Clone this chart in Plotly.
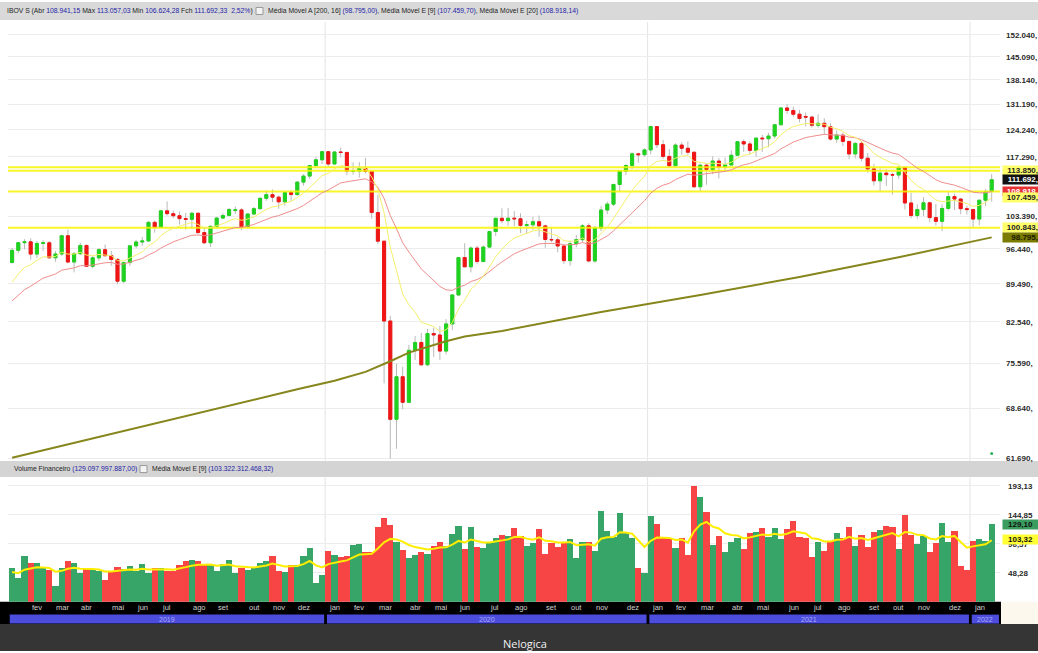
import numpy as np
import pandas as pd
import plotly.graph_objects as go

W, H = 1038, 653

# ---------------- DATA (weekly IBOV, thousands of points) ----------------
first_week = "2019-01-14"
opens = [93.66, 96.10, 97.68, 97.86, 95.34, 97.53, 97.66, 94.60, 95.36, 99.14,
         93.74, 95.42, 97.11, 92.88, 94.58, 96.24, 95.01, 94.26, 89.99, 93.63,
         97.03, 97.82, 98.04, 102.01, 100.97, 104.53, 103.91, 103.45, 102.82, 102.67,
         104.00, 99.81, 97.67, 101.14, 102.94, 103.50, 104.60, 104.75, 101.03, 103.83,
         105.02, 107.36, 108.20, 107.63, 106.56, 108.69, 108.23, 111.13, 112.56, 115.12,
         116.53, 118.57, 115.50, 118.48, 118.38, 113.76, 113.77, 114.38, 113.68, 104.17,
         98.00, 82.68, 67.07, 73.43, 69.54, 77.68, 78.99, 75.33, 80.51, 80.26,
         77.56, 82.17, 87.40, 94.64, 92.80, 96.57, 93.84, 96.77, 100.03, 102.89,
         102.38, 102.91, 102.78, 101.35, 101.47, 102.14, 101.24, 98.36, 98.29, 97.00,
         94.02, 97.48, 98.31, 101.26, 93.95, 100.75, 104.72, 106.04, 110.58, 113.75,
         115.13, 118.02, 117.81, 119.02, 125.08, 120.35, 117.38, 115.07, 120.24, 119.43,
         118.43, 110.04, 115.20, 114.16, 116.22, 114.78, 115.25, 117.67, 121.11, 120.53,
         118.89, 122.04, 121.88, 122.59, 125.56, 130.13, 129.44, 128.41, 127.80, 127.62,
         125.43, 125.96, 125.05, 121.80, 122.81, 121.19, 118.00, 120.68, 116.93, 114.29,
         111.44, 113.28, 112.90, 112.83, 114.65, 106.30, 103.50, 104.82, 106.34, 103.04,
         102.22, 105.07, 107.76, 107.20, 105.02, 104.82, 102.72, 106.93, 108.94]
highs = [96.59, 97.68, 98.40, 98.59, 98.00, 98.20, 98.00, 96.00, 99.35, 100.44,
         95.80, 97.70, 97.30, 94.90, 96.60, 97.30, 96.00, 94.50, 93.70, 97.10,
         98.30, 98.90, 102.20, 102.40, 104.80, 106.65, 104.60, 104.40, 104.10, 104.30,
         104.20, 101.00, 101.30, 103.20, 104.00, 105.20, 105.50, 105.10, 104.00, 105.40,
         107.60, 109.10, 109.40, 108.00, 109.00, 109.20, 111.30, 113.00, 115.20, 117.20,
         118.70, 118.60, 118.70, 119.60, 118.40, 115.90, 116.00, 117.00, 113.70, 108.20,
         98.00, 83.60, 75.50, 75.00, 78.60, 80.10, 80.60, 81.30, 81.50, 81.80,
         83.00, 87.40, 94.70, 97.60, 96.90, 97.10, 97.10, 100.20, 103.00, 105.10,
         105.20, 104.50, 104.00, 102.30, 103.20, 103.50, 101.50, 100.80, 98.80, 97.40,
         98.00, 99.30, 101.60, 101.80, 101.20, 105.60, 106.60, 110.60, 113.80, 115.50,
         118.40, 118.30, 119.40, 125.32, 125.10, 121.60, 119.20, 120.70, 121.00, 121.20,
         118.50, 115.60, 115.50, 117.40, 117.00, 117.10, 118.90, 121.20, 121.70, 121.20,
         122.10, 122.90, 123.40, 125.70, 130.40, 131.19, 130.50, 129.60, 128.90, 128.00,
         128.40, 127.30, 126.00, 124.00, 123.50, 121.30, 121.00, 121.20, 118.20, 115.50,
         114.40, 114.20, 113.40, 115.10, 114.80, 108.60, 106.00, 107.60, 106.60, 106.10,
         106.00, 108.80, 108.40, 107.40, 105.70, 105.00, 107.00, 109.50, 113.06]
lows = [93.40, 95.50, 96.30, 94.20, 94.60, 96.00, 94.40, 93.80, 95.00, 93.50,
        91.70, 95.20, 92.80, 92.50, 94.00, 94.90, 93.00, 89.40, 89.60, 93.00,
        96.60, 97.00, 97.90, 99.80, 100.90, 103.50, 102.90, 101.50, 100.40, 100.60,
        99.50, 97.40, 96.80, 100.70, 102.70, 103.30, 103.80, 100.30, 100.70, 103.60,
        104.80, 106.80, 106.50, 105.00, 105.70, 106.80, 107.90, 110.30, 111.90, 114.80,
        115.50, 114.90, 115.40, 117.10, 112.80, 112.90, 112.20, 113.20, 102.80, 97.40,
        72.40, 61.69, 63.00, 68.50, 69.40, 76.10, 75.10, 75.10, 76.60, 76.10,
        77.00, 81.10, 87.20, 92.70, 91.70, 93.40, 93.70, 96.70, 99.10, 101.80,
        101.30, 101.20, 99.70, 99.50, 100.40, 98.90, 96.60, 97.80, 95.70, 93.40,
        93.00, 96.70, 97.70, 93.70, 93.60, 100.10, 103.80, 105.60, 108.90, 112.80,
        114.30, 115.80, 117.30, 117.90, 119.50, 116.80, 114.70, 115.00, 117.80, 117.80,
        109.70, 109.00, 110.50, 113.00, 112.00, 113.80, 115.20, 117.50, 118.50, 117.90,
        117.30, 118.50, 119.70, 122.00, 125.50, 128.50, 127.70, 126.20, 125.10, 124.80,
        124.80, 122.90, 121.40, 120.80, 120.00, 116.70, 116.90, 116.20, 113.40, 110.30,
        108.80, 110.20, 108.20, 111.90, 104.80, 102.90, 102.80, 103.40, 102.10, 101.30,
        100.10, 104.60, 104.70, 103.80, 103.70, 100.85, 101.40, 105.60, 106.62]
closes = [96.10, 97.68, 97.86, 95.34, 97.53, 97.66, 94.60, 95.36, 99.14, 93.74,
          95.42, 97.11, 92.88, 94.58, 96.24, 95.01, 94.26, 89.99, 93.63, 97.03,
          97.82, 98.04, 102.01, 100.97, 104.53, 103.91, 103.45, 102.82, 102.67, 104.00,
          99.81, 97.67, 101.14, 102.94, 103.50, 104.82, 104.75, 101.03, 103.83, 105.02,
          107.36, 108.20, 107.63, 106.56, 108.69, 108.23, 111.13, 112.56, 115.12, 116.53,
          118.57, 115.50, 118.48, 118.38, 113.76, 113.77, 114.38, 113.68, 104.17, 98.00,
          82.68, 67.07, 73.43, 69.54, 77.68, 78.99, 75.33, 80.51, 80.26, 77.56,
          82.17, 87.40, 94.64, 92.80, 96.57, 93.84, 96.77, 100.03, 102.89, 102.38,
          102.91, 102.78, 101.35, 101.47, 102.14, 101.24, 98.36, 98.29, 97.00, 94.02,
          97.48, 98.31, 101.26, 93.95, 100.75, 104.72, 106.04, 110.58, 113.75, 115.13,
          118.02, 117.81, 119.02, 125.08, 120.35, 117.38, 115.07, 120.24, 119.43, 118.43,
          110.04, 115.20, 114.16, 116.22, 114.78, 115.25, 117.67, 121.11, 120.53, 118.89,
          122.04, 121.88, 122.59, 125.56, 130.13, 129.44, 128.41, 127.26, 127.62, 125.43,
          125.96, 125.05, 121.80, 122.81, 121.19, 118.00, 120.68, 116.93, 114.29, 111.44,
          113.28, 112.90, 112.83, 114.65, 106.30, 103.50, 104.82, 106.34, 103.04, 102.22,
          105.07, 107.76, 107.20, 105.02, 104.82, 102.72, 106.93, 108.94, 111.69]
# weekly financial volume, R$ billions
volumes = [56.6, 40.0, 76.6, 64.9, 63.8, 56.6, 52.2, 26.1, 56.6, 68.3,
           63.8, 48.3, 55.5, 52.2, 51.1, 36.6, 49.4, 58.3, 54.9, 59.4,
           50.5, 62.2, 48.3, 55.5, 56.6, 51.6, 51.6, 61.1, 68.3, 69.4,
           68.3, 61.1, 63.3, 51.6, 63.3, 68.8, 47.7, 55.5, 53.3, 55.5,
           64.9, 67.2, 76.6, 50.5, 49.4, 61.6, 60.5, 75.5, 89.4, 30.5,
           43.8, 84.4, 77.1, 73.8, 76.0, 94.9, 96.6, 82.1, 83.3, 123.8,
           139.3, 128.2, 99.9, 86.0, 72.2, 77.1, 82.1, 78.8, 92.7, 98.8,
           92.1, 112.7, 126.5, 88.2, 123.8, 91.0, 89.9, 98.2, 106.6, 111.0,
           109.9, 123.2, 109.9, 93.2, 97.1, 122.1, 78.8, 97.1, 91.6, 98.2,
           103.8, 72.2, 98.8, 98.8, 84.4, 151.5, 117.7, 108.2, 148.7, 113.8,
           105.5, 55.5, 48.3, 143.2, 128.8, 105.5, 105.5, 89.9, 106.6, 77.7,
           193.1, 174.3, 149.9, 94.4, 109.3, 82.1, 99.9, 106.6, 87.1, 113.8,
           116.6, 123.2, 107.1, 123.2, 103.8, 121.0, 134.3, 107.1, 106.6, 74.9,
           98.8, 84.4, 101.0, 113.8, 106.6, 124.9, 92.7, 111.0, 91.0, 116.6,
           119.3, 126.0, 124.9, 87.1, 145.4, 111.0, 96.6, 109.3, 83.3, 97.1,
           132.1, 99.9, 118.2, 59.4, 52.2, 101.0, 103.8, 101.0, 129.1]
# 200-period simple moving average (week index, thousands)
sma200_idx = [0, 10, 20, 30, 40, 46, 52, 57, 61, 64, 70, 73, 79, 95, 111, 127, 143, 158]
sma200_val = [61.8, 63.8, 65.8, 67.9, 70.1, 71.5, 72.8, 74.2, 75.9, 77.3,
              79.2, 80.0, 80.95, 84.3, 87.4, 90.8, 94.7, 98.795]
ema9_seed, ema20_seed, vol_ema9_seed = 89.8, 86.3, 49.4
levels = [114.72, 113.85, 108.94, 100.843]

# right-axis labels as they show in the window (the right edge cuts them after the comma)
price_ticks = [61.69, 68.64, 75.59, 82.54, 89.49, 96.44, 103.39, 117.29,
               124.24, 131.19, 138.14, 145.09, 152.04]
price_tick_text = ["61.690,", "68.640,", "75.590,", "82.540,", "89.490,", "96.440,", "103.390,",
                   "117.290,", "124.240,", "131.190,", "138.140,", "145.090,", "152.040,"]
vol_ticks = [48.2825, 96.565, 144.8475, 193.13]
vol_tick_text = ["48,28", "96,57", "144,85", "193,13"]
tag_values = [113.85, 111.69233, 108.91814, 107.4597, 100.843, 98.795]
tag_text = ["113.850,", "111.692,", "108.918,", "107.459,", "100.843,", "98.795,"]
vol_tag_values = [129.10, 103.32]
vol_tag_text = ["129,10", "103,32"]
month_names = ["jan", "fev", "mar", "abr", "mai", "jun", "jul", "ago", "set", "out", "nov", "dez"]
years = [2019, 2020, 2021, 2022]

# ---------------- derived ----------------
dates = pd.date_range(first_week, periods=len(closes), freq="7D")
o = np.array(opens) * 1000
h = np.array(highs) * 1000
l = np.array(lows) * 1000
c = np.array(closes) * 1000


def ema(vals, n, seed):
    k = 2 / (n + 1)
    out = [seed]
    for v in vals[1:]:
        out.append(out[-1] + k * (v - out[-1]))
    return np.array(out)


ema9 = ema(list(c), 9, ema9_seed * 1000)
ema20 = ema(list(c), 20, ema20_seed * 1000)
vema9 = ema(volumes, 9, vol_ema9_seed)
sma_x = [dates[i] for i in sma200_idx]
sma_y = [v * 1000 for v in sma200_val]

up = c >= o
GREEN, RED = "#1fd21f", "#f01515"
vol_colors = ["#37a567" if u else "#f74545" for u in up]

week = pd.Timedelta(days=7)
x0 = dates[0] - 0.66 * week
x1 = dates[-1] + 1.34 * week


def pyv(p):  # pixel-from-top -> paper
    return 1 - p / H


def pxv(p):
    return p / W


fig = go.Figure()

for lv in levels:
    fig.add_trace(go.Scatter(x=[x0, x1], y=[lv * 1000, lv * 1000], mode="lines",
                             line=dict(color="rgba(247,245,0,0.85)", width=2),
                             hoverinfo="skip", xaxis="x", yaxis="y"))

fig.add_trace(go.Candlestick(x=dates, open=o, high=h, low=l, close=c,
                             increasing=dict(line=dict(color="#b9b9b9", width=1), fillcolor="rgba(0,0,0,0)"),
                             decreasing=dict(line=dict(color="#b9b9b9", width=1), fillcolor="rgba(0,0,0,0)"),
                             hoverinfo="skip", xaxis="x", yaxis="y"))
fig.add_trace(go.Candlestick(x=dates, open=o, close=c, high=np.maximum(o, c), low=np.minimum(o, c),
                             increasing=dict(line=dict(color=GREEN, width=1), fillcolor=GREEN),
                             decreasing=dict(line=dict(color=RED, width=1), fillcolor=RED),
                             hoverinfo="skip", xaxis="x", yaxis="y"))

fig.add_trace(go.Scatter(x=sma_x, y=sma_y, mode="lines", line=dict(color="#86861c", width=2),
                         hoverinfo="skip", xaxis="x", yaxis="y"))
fig.add_trace(go.Scatter(x=dates, y=ema20, mode="lines", line=dict(color="#ef8d8d", width=1),
                         hoverinfo="skip", xaxis="x", yaxis="y"))
fig.add_trace(go.Scatter(x=dates, y=ema9, mode="lines", line=dict(color="#f4f06a", width=1),
                         hoverinfo="skip", xaxis="x", yaxis="y"))
fig.add_trace(go.Scatter(x=[dates[-1]], y=[62350], mode="markers",
                         marker=dict(color="#2eb35c", size=3), hoverinfo="skip", xaxis="x", yaxis="y"))

fig.add_trace(go.Bar(x=dates, y=volumes, marker=dict(color=vol_colors, line=dict(width=0)),
                     width=7 * 24 * 3600 * 1000, hoverinfo="skip", xaxis="x2", yaxis="y2"))
fig.add_trace(go.Scatter(x=dates, y=vema9, mode="lines", line=dict(color="#ffee00", width=2),
                         hoverinfo="skip", xaxis="x2", yaxis="y2"))

TICKFONT = dict(family="Liberation Sans", size=8, color="#2a2a2a", weight="bold")

fig.update_layout(
    width=W, height=H, autosize=False, margin=dict(l=0, r=0, t=0, b=0, pad=0),
    paper_bgcolor="white", plot_bgcolor="rgba(0,0,0,0)", showlegend=False,
    bargap=0,
    xaxis=dict(domain=[pxv(8), pxv(1000)], range=[x0, x1], showticklabels=False, showgrid=False,
               zeroline=False, rangeslider=dict(visible=False), anchor="y"),
    yaxis=dict(domain=[pyv(462.5), pyv(22)], type="log",
               range=[np.log10(61363), np.log10(156286)], side="right", anchor="x",
               tickvals=[t * 1000 for t in price_ticks], ticktext=price_tick_text,
               tickfont=TICKFONT, ticks="", showgrid=True, gridcolor="#ececec", gridwidth=1,
               zeroline=False, ticklabelstandoff=5),
    xaxis2=dict(domain=[pxv(8), pxv(1000)], range=[x0, x1], showticklabels=False, showgrid=False,
                zeroline=False, matches="x", anchor="y2"),
    yaxis2=dict(domain=[pyv(603.5), pyv(478.5)], range=[0, 208.1], side="right", anchor="x2",
                tickvals=vol_ticks, ticktext=vol_tick_text,
                tickfont=TICKFONT, ticks="", showgrid=True, gridcolor="#ececec",
                zeroline=False, ticklabelstandoff=7),
)

shapes = []
shapes.append(dict(type="rect", xref="paper", yref="paper", x0=0, x1=1, y0=pyv(20), y1=pyv(2),
                   fillcolor="#d9d9d9", line=dict(width=0), layer="below"))
shapes.append(dict(type="rect", xref="paper", yref="paper", x0=0, x1=1, y0=pyv(478.5), y1=pyv(462.5),
                   fillcolor="#d4d4d4", line=dict(width=0), layer="below"))
for (ix, iy) in [(256, 11), (140, 470.5)]:
    shapes.append(dict(type="rect", xref="paper", yref="paper", x0=pxv(ix), x1=pxv(ix + 7),
                       y0=pyv(iy + 3.5), y1=pyv(iy - 3.5), fillcolor="#f4f4f4",
                       line=dict(width=1, color="#9a9a9a"), layer="above"))
shapes.append(dict(type="rect", xref="paper", yref="paper", x0=0, x1=pxv(1001), y0=pyv(626), y1=pyv(603.5),
                   fillcolor="#000000", line=dict(width=0), layer="below"))
shapes.append(dict(type="rect", xref="paper", yref="paper", x0=pxv(1001), x1=1, y0=pyv(626), y1=pyv(603.5),
                   fillcolor="#fdf8ee", line=dict(width=0), layer="below"))
shapes.append(dict(type="rect", xref="paper", yref="paper", x0=0, x1=1, y0=0, y1=pyv(626),
                   fillcolor="#353535", line=dict(width=0), layer="below"))

year_starts = []
for y in years:
    first = dates[dates.year == y][0]
    year_starts.append(first - 0.5 * week)
for b in year_starts[1:]:
    for (ya, yb) in [(22, 462.5), (478.5, 603.5)]:
        shapes.append(dict(type="line", xref="x", yref="paper", x0=b, x1=b, y0=pyv(yb), y1=pyv(ya),
                           line=dict(color="#e4e4e4", width=1), layer="below"))
annotations = []
bounds = [x0] + year_starts[1:] + [x1]
for k, y in enumerate(years):
    a = bounds[k] + pd.Timedelta(days=2)
    b = bounds[k + 1] - pd.Timedelta(days=1.2)
    shapes.append(dict(type="rect", xref="x2", yref="paper", x0=a, x1=b, y0=pyv(625.5), y1=pyv(616.5),
                       fillcolor="#4c4ddc", line=dict(width=0), layer="below"))
    annotations.append(dict(x=a + (b - a) / 2, y=pyv(621), xref="x2", yref="paper", text=str(y),
                            showarrow=False, font=dict(family="Liberation Sans", size=7, color="#a9aaf2"),
                            xanchor="center", yanchor="middle"))
prev_m = dates[0].month
for d in dates[1:]:
    if d.month != prev_m:
        annotations.append(dict(x=d, y=pyv(609.5), xref="x2", yref="paper", text=month_names[d.month - 1],
                                showarrow=False, xanchor="left", yanchor="middle", xshift=-1,
                                font=dict(family="Liberation Sans", size=7.5, color="#cfcfcf")))
    prev_m = d.month

BLUE = "#2424a6"


def blu(s):
    return f"<span style='color:{BLUE}'>{s}</span>"


hdr1 = (f"IBOV S (Abr {blu('108.941,15')} Máx {blu('113.057,03')} Min {blu('106.624,28')} "
        f"Fch {blu('111.692,33')}  {blu('2,52%')})")
hdr2 = (f"Média Móvel A [200, 16] {blu('(98.795,00)')}, Média Móvel E [9] {blu('(107.459,70)')}, "
        f"Média Móvel E [20] {blu('(108.918,14)')}")
hdr3 = f"Volume Financeiro {blu('(129.097.997.887,00)')}"
hdr4 = f"Média Móvel E [9] {blu('(103.322.312.468,32)')}"
HF = dict(family="Liberation Sans", size=6.8, color="#1e1e1e")
for (tx, xx, yy) in [(hdr1, 5, 11), (hdr2, 266, 11), (hdr3, 12, 470.5), (hdr4, 150, 470.5)]:
    annotations.append(dict(x=pxv(xx), y=pyv(yy), xref="paper", yref="paper", text=tx, showarrow=False,
                            xanchor="left", yanchor="middle", font=HF))

tag_colors = [("#ffff6a", "#222222"), ("#111111", "#ffffff"), ("#e63232", "#ffffff"),
              ("#ffff6a", "#222222"), ("#ffff6a", "#222222"), ("#7b7b00", "#1a1a00")]
for v, t, (bg, fg) in zip(tag_values, tag_text, tag_colors):
    annotations.append(dict(x=pxv(1002), y=np.log10(v * 1000), xref="paper", yref="y",
                            text=t, width=35, align="right",
                            showarrow=False, xanchor="left", yanchor="middle", bgcolor=bg, borderpad=0,
                            font=dict(family="Liberation Sans", size=8, color=fg, weight="bold")))
for v, t, bg in zip(vol_tag_values, vol_tag_text, ["#3a9c5e", "#ffff33"]):
    annotations.append(dict(x=pxv(1002), y=v, xref="paper", yref="y2", text=t,
                            width=35, align="center",
                            showarrow=False, xanchor="left", yanchor="middle", bgcolor=bg, borderpad=0,
                            font=dict(family="Liberation Sans", size=8, color="#111111", weight="bold")))

annotations.append(dict(x=pxv(525), y=pyv(645), xref="paper", yref="paper", text="Nelogica",
                        showarrow=False, xanchor="center", yanchor="middle",
                        font=dict(family="Open Sans", size=11, color="#f2f2f2")))

fig.update_layout(shapes=shapes, annotations=annotations)

post = ("document.documentElement.style.margin='0';document.body.style.margin='0';"
        "document.documentElement.style.overflow='hidden';document.body.style.overflow='hidden';"
        "var gd=document.getElementById('{plot_id}');gd.style.overflow='hidden';"
        "gd.querySelectorAll('svg').forEach(function(s){s.style.overflow='hidden';});")
fig.write_html("out.html", include_plotlyjs=True, full_html=True,
               config={"displayModeBar": False}, post_script=post)
